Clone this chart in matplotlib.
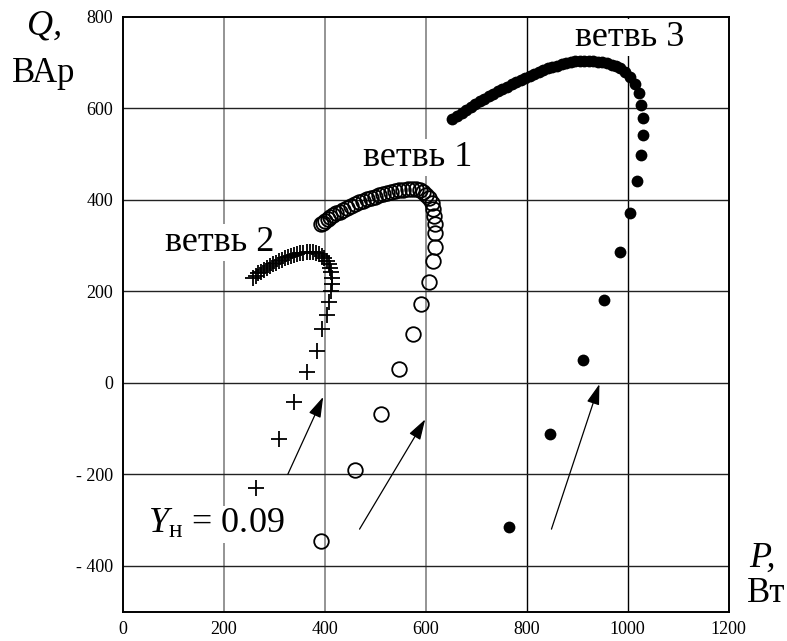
import matplotlib
matplotlib.use("Agg")
import matplotlib.pyplot as plt

plt.rcParams['font.family'] = ['Liberation Serif', 'DejaVu Serif']
plt.rcParams['mathtext.fontset'] = 'custom'
plt.rcParams['mathtext.rm'] = 'Liberation Serif'
plt.rcParams['mathtext.it'] = 'Liberation Serif:italic'
plt.rcParams['mathtext.bf'] = 'Liberation Serif:bold'

# ---- data ----
branch1_p = [392, 396, 401, 406, 411, 417, 423, 430, 437, 444, 452, 460, 468, 476, 484,
             492, 500, 508, 516, 524, 532, 540, 548, 556, 564, 572, 580, 588, 595, 601,
             607, 612, 615, 617, 618, 618, 618, 614, 606, 590, 574, 547, 511, 460, 392]
branch1_q = [346, 350, 354, 358, 362, 366, 370, 374, 378, 382, 386, 390, 394, 398, 401,
             404, 407, 410, 413, 415, 417, 419, 421, 422, 423, 424, 424, 422, 417, 411,
             403, 392, 379, 364, 348, 328, 297, 266, 220, 172, 106, 30, -68, -191, -345]

branch2_p = [264, 309, 340, 364, 384, 395, 404, 409, 413, 414, 414, 413, 411, 408, 404,
             399, 394, 388, 382, 376, 370, 364, 358, 352, 346, 340, 334, 328, 322, 316,
             310, 304, 298, 292, 286, 280, 274, 268, 263, 259]
branch2_q = [-229, -123, -42, 23, 70, 117, 148, 177, 201, 215, 229, 241, 251, 259, 266,
             272, 277, 281, 284, 285, 286, 285, 284, 283, 281, 279, 277, 275, 272, 269,
             266, 262, 259, 255, 251, 247, 243, 239, 234, 229]

branch3_p = [653, 662, 671, 680, 689, 698, 707, 716, 725, 734, 743, 752, 761, 770, 779,
             788, 797, 806, 815, 824, 833, 842, 851, 860, 869, 878, 887, 896, 905, 914,
             923, 932, 941, 950, 959, 968, 977, 985, 995, 1005, 1014, 1023, 1026, 1030,
             1030, 1026, 1018, 1005, 985, 954, 911, 847, 764]
branch3_q = [576, 583, 590, 597, 603, 609, 615, 621, 627, 632, 637, 642, 647, 652, 657,
             662, 667, 671, 675, 679, 683, 687, 690, 693, 696, 699, 701, 703, 704, 704,
             704, 703, 702, 700, 698, 695, 692, 688, 680, 669, 653, 633, 607, 578,
             541, 497, 440, 372, 286, 180, 50, -113, -316]

arrow_tails = [(327, -200), (469, -320), (849, -320)]
arrow_heads = [(397, -31), (599, -80), (944, -3)]

branch_labels = ["ветвь 1", "ветвь 2", "ветвь 3"]
branch_label_pos = [(476, 474), (84, 288), (895, 736)]
y_label_text = r"$Y_{\mathrm{н}}$ = 0.09"
y_label_pos = (51, -329)

x_ticks = [0, 200, 400, 600, 800, 1000, 1200]
y_ticks = [-400, -200, 0, 200, 400, 600, 800]

# ---- figure ----
W, H = 787, 641
fig = plt.figure(figsize=(W / 100, H / 100), dpi=100)
ax = fig.add_axes([122.7 / W, 1 - 611.5 / H, 606.0 / W, 594.8 / H])
ax.set_xlim(0, 1200)
ax.set_ylim(-500, 800)

# grid lines
for xv in [200, 400, 600]:
    ax.axvline(xv, color='#777777', lw=1.1, zorder=0.5)
for xv in [800, 1000]:
    ax.axvline(xv, color='black', lw=1.0, zorder=0.5)
for yv in [-400, -200, 0, 200, 400, 600]:
    ax.axhline(yv, color='#222222', lw=1.0, zorder=0.5)

ax.plot(branch2_p, branch2_q, linestyle='none', marker='+', ms=11, mew=1.3,
        color='black', zorder=4)
ax.plot(branch1_p, branch1_q, linestyle='none', marker='o', ms=10.5, mew=1.3,
        mfc='none', mec='black', zorder=4)
ax.plot(branch3_p, branch3_q, linestyle='none', marker='o', ms=8.5, mew=0,
        color='black', zorder=4)

for (tx, ty), (hx, hy) in zip(arrow_tails, arrow_heads):
    ax.annotate('', xy=(hx, hy), xytext=(tx, ty),
                arrowprops=dict(arrowstyle='-|>,head_length=0.9,head_width=0.28',
                                color='black', lw=0.9, shrinkA=0, shrinkB=0,
                                mutation_scale=14), zorder=5)

for lbl, (lx, ly) in zip(branch_labels, branch_label_pos):
    ax.text(lx, ly, lbl, fontsize=26, ha='left', va='baseline', zorder=3,
            bbox=dict(facecolor='white', edgecolor='none', pad=1.5))
ax.text(y_label_pos[0], y_label_pos[1], y_label_text, fontsize=26, ha='left',
        va='baseline', zorder=3,
        bbox=dict(facecolor='white', edgecolor='none', pad=1.5))

ax.set_xticks(x_ticks)
ax.set_yticks(y_ticks)
ax.set_xticklabels([str(v) for v in x_ticks])
ax.set_yticklabels([('- ' + str(-v)) if v < 0 else str(v) for v in y_ticks])
ax.tick_params(axis='both', length=0, labelsize=13)
ax.tick_params(axis='y', pad=7)
ax.tick_params(axis='x', pad=7)
for sp in ax.spines.values():
    sp.set_linewidth(1.4)
    sp.set_color('black')

# axis labels
fig.text(26.7 / W, 1 - 35 / H, "Q,", fontsize=26, style='italic', ha='left', va='baseline')
fig.text(11.7 / W, 1 - 81.7 / H, "ВАр", fontsize=25, ha='left', va='baseline')
fig.text(749.3 / W, 1 - 566.7 / H, "P,", fontsize=26, style='italic', ha='left', va='baseline')
fig.text(746.7 / W, 1 - 601.7 / H, "Вт", fontsize=25, ha='left', va='baseline')

fig.savefig("out.png", dpi=100)
